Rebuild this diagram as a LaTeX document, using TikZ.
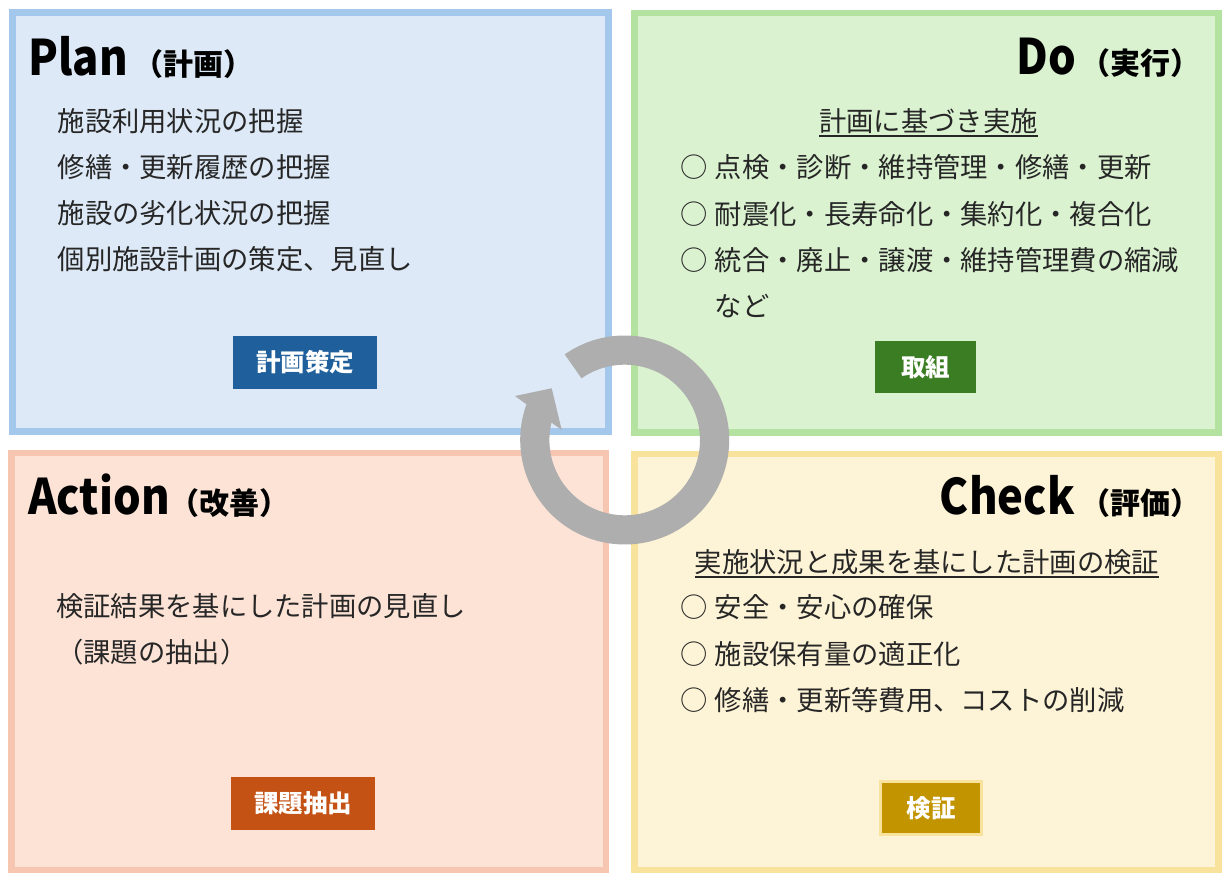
\documentclass[tikz,border=0pt]{standalone}
\usepackage{fontspec}
\setmainfont{Noto Sans CJK JP}
\newfontfamily\latinttl{Noto Sans CJK JP}[FakeStretch=0.89]
\usetikzlibrary{calc}
\definecolor{planfill}{HTML}{DDE9F6}
\definecolor{planline}{HTML}{A4C8EC}
\definecolor{dofill}{HTML}{DAF2D0}
\definecolor{doline}{HTML}{B3E2A1}
\definecolor{actfill}{HTML}{FCE3D6}
\definecolor{actline}{HTML}{F7C6B0}
\definecolor{chkfill}{HTML}{FDF3D6}
\definecolor{chkline}{HTML}{F9E29C}
\definecolor{tagblue}{HTML}{1F5F9B}
\definecolor{taggreen}{HTML}{3A7D22}
\definecolor{tagorange}{HTML}{C45214}
\definecolor{taggold}{HTML}{C29400}
\definecolor{ringgray}{HTML}{AEAEAE}
\definecolor{txt}{HTML}{262626}
\begin{document}
\begin{tikzpicture}[x=1pt,y=1pt,
  quad/.style={line width=6.5pt},
  ttl/.style={inner sep=0pt, font=\fontsize{49}{49}\selectfont\bfseries, text=black},
  body/.style={inner sep=0pt, anchor=base west, font=\fontsize{27.3}{27.3}\selectfont, text=txt},
  head/.style={inner sep=0pt, anchor=base, font=\fontsize{27.3}{27.3}\selectfont, text=txt},
  uline/.style={draw=txt, line width=1.4pt},
  tagbox/.style={inner sep=0pt, text=white, font=\fontsize{24.5}{24.5}\selectfont\bfseries},
]
\newcommand{\subt}[1]{{\fontsize{30}{30}\selectfont #1}}
\newcommand{\lat}[1]{{\latinttl\bfseries #1}}
\useasboundingbox (0,0) rectangle (1223,873);
\fill[white] (0,0) rectangle (1223,873);
% quadrants
\draw[quad, draw=planline, fill=planfill] (12.25,860.5) rectangle (608.25,441.25);
\draw[quad, draw=doline, fill=dofill] (634.25,860) rectangle (1218.25,440.25);
\draw[quad, draw=actline, fill=actfill] (11.25,419.75) rectangle (606,3.25);
\draw[quad, draw=chkline, fill=chkfill] (634.25,418.75) rectangle (1218.25,3.25);
% titles
\node[ttl, anchor=base west] (tplan) at (28,797) {\lat{Plan}\kern6pt\subt{（計画）}};
\node[ttl, anchor=base east] (tdo) at (1201,798) {\lat{Do}\kern5pt\subt{（実行）}};
\node[ttl, anchor=base west] (tact) at (28,358) {\lat{Action}\kern0pt\subt{（改善）}};
\node[ttl, anchor=base east] (tchk) at (1201,358) {\lat{Check}\kern6pt\subt{（評価）}};
% plan body
\node[body] (p1) at (57.5,741.6) {施設利用状況の把握};
\node[body] (p2) at (57.5,695.6) {修繕・更新履歴の把握};
\node[body] (p3) at (57.5,649.6) {施設の劣化状況の把握};
\node[body] (p4) at (57.5,603.6) {個別施設計画の策定、見直し};
% do body
\node[head] (dh) at (928.5,741.6) {計画に基づき実施};
\draw[uline] ([yshift=-4.5pt]dh.base west) -- ([yshift=-4.5pt]dh.base east);
\node[body] (d1) at (680,695.6) {○\kern7.5pt 点検・診断・維持管理・修繕・更新};
\node[body] (d2) at (680,648.6) {○\kern7.5pt 耐震化・長寿命化・集約化・複合化};
\node[body] (d3) at (680,602.6) {○\kern7.5pt 統合・廃止・譲渡・維持管理費の縮減};
\node[body] (d4) at (714.5,556.6) {など};
% check body
\node[head] (ch) at (927,300.6) {実施状況と成果を基にした計画の検証};
\draw[uline] ([yshift=-4.5pt]ch.base west) -- ([yshift=-4.5pt]ch.base east);
\node[body] (c1) at (680,255.6) {○\kern7.5pt 安全・安心の確保};
\node[body] (c2) at (680,208.6) {○\kern7.5pt 施設保有量の適正化};
\node[body] (c3) at (680,162.6) {○\kern7.5pt 修繕・更新等費用、コストの削減};
% action body
\node[body] (a1) at (56,256.6) {検証結果を基にした計画の見直し};
\node[body] (a2) at (56,210.6) {（課題の抽出）};
% tags
\node[tagbox, fill=tagblue, minimum width=144pt, minimum height=53pt] (gplan) at (305,510.5) {計画策定};
\node[tagbox, fill=taggreen, minimum width=101pt, minimum height=52pt] (gdo) at (925.5,506) {取組};
\node[tagbox, fill=tagorange, minimum width=144pt, minimum height=53pt] (gact) at (303,69.5) {課題抽出};
\node[tagbox, fill=taggold, draw=chkline, line width=3pt, minimum width=101pt, minimum height=53pt] (gchk) at (931,65) {検証};
% circular arrow
\begin{scope}[shift={(624.7,433)}]
\fill[ringgray] (125:104.5) arc[start angle=125, end angle=-199.95, radius=104.5]
  -- (-109.7,44) -- (-73,51.7) -- (-63,10) -- (-193.4:75.3)
  arc[start angle=-193.4, end angle=125, radius=75.3] -- cycle;
\end{scope}
\end{tikzpicture}
\end{document}
